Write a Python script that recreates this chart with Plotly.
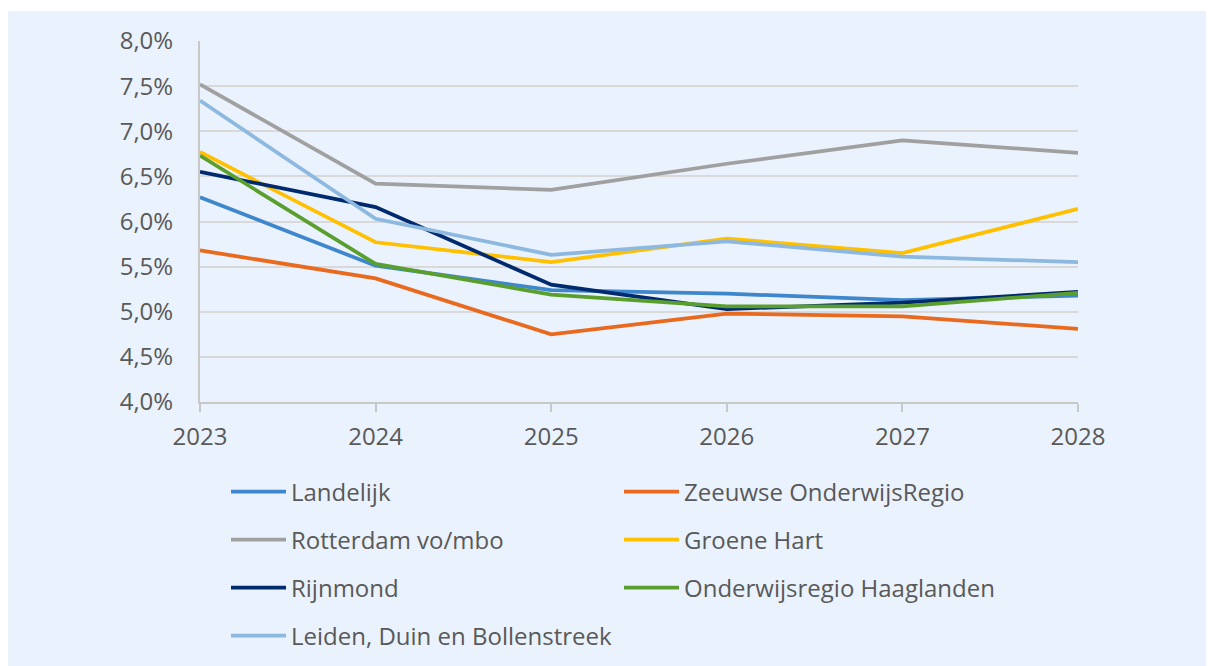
import plotly.graph_objects as go

# jaren en percentages
years = [2023, 2024, 2025, 2026, 2027, 2028]

landelijk = [6.27, 5.51, 5.24, 5.20, 5.13, 5.18]
zeeuwse = [5.68, 5.37, 4.75, 4.98, 4.95, 4.81]
rotterdam = [7.52, 6.42, 6.35, 6.64, 6.90, 6.76]
groene_hart = [6.77, 5.77, 5.55, 5.81, 5.65, 6.14]
rijnmond = [6.55, 6.16, 5.30, 5.03, 5.10, 5.22]
haaglanden = [6.73, 5.53, 5.19, 5.06, 5.06, 5.21]
leiden = [7.34, 6.03, 5.63, 5.78, 5.61, 5.55]

series_names = ['Landelijk', 'Zeeuwse OnderwijsRegio', 'Rotterdam vo/mbo', 'Groene Hart',
                'Rijnmond', 'Onderwijsregio Haaglanden', 'Leiden, Duin en Bollenstreek']
series_values = [landelijk, zeeuwse, rotterdam, groene_hart, rijnmond, haaglanden, leiden]
colors = ['#3F87CC', '#E96A1E', '#A0A0A0', '#FFC000', '#002A6E', '#5A9F2E', '#8DB9E0']

y_ticks = [4.0, 4.5, 5.0, 5.5, 6.0, 6.5, 7.0, 7.5, 8.0]
y_labels = [f"{v:.1f}%".replace('.', ',') for v in y_ticks]

# the page body adds an 8px margin, so the figure is 8px smaller than the window
W, H = 1206, 658
L, R, T, B = 192, 136, 33, 264
plot_w = W - L - R
plot_h = H - T - B

FONT = 'Open Sans'
TXT = '#595959'

fig = go.Figure()

# one legend per entry so the two-column layout can be placed by hand
col_x = [218, 611]
row_y = [484, 532, 580, 628]
layout_legends = {}

for i, (name, vals, col) in enumerate(zip(series_names, series_values, colors)):
    lid = 'legend' if i == 0 else f'legend{i + 1}'
    fig.add_trace(go.Scatter(
        x=years, y=vals, mode='lines', name=name,
        line=dict(color=col, width=3.75),
        legend=lid,
    ))
    layout_legends[lid] = dict(
        orientation='h', itemwidth=55,
        font=dict(family=FONT, size=24, color=TXT),
        bgcolor='rgba(0,0,0,0)', xanchor='left', yanchor='middle',
        x=(col_x[i % 2] - L) / plot_w, y=(H - B - row_y[i // 2]) / plot_h,
        itemclick=False, itemdoubleclick=False,
    )

fig.update_layout(
    width=W, height=H,
    margin=dict(l=L, r=R, t=T, b=B, autoexpand=False),
    paper_bgcolor='white',
    plot_bgcolor='rgba(0,0,0,0)',
    font=dict(family=FONT, size=24, color=TXT),
    showlegend=True,
    **layout_legends,
    shapes=[dict(type='rect', xref='paper', yref='paper', layer='below',
                 x0=-L / plot_w, x1=(W - L) / plot_w,
                 y0=-B / plot_h, y1=(H - B - 3) / plot_h,
                 fillcolor='#EAF2FD', line=dict(width=0))],
)

fig.update_xaxes(
    range=[2023, 2028], tickvals=years, ticktext=[str(y) for y in years],
    showgrid=False, showline=True, linecolor='#C8C8C8', linewidth=2,
    ticks='outside', ticklen=8, tickcolor='#C8C8C8', tickwidth=2,
    ticklabelstandoff=4, zeroline=False, fixedrange=True,
)
fig.update_yaxes(
    range=[4.0, 8.0], tickvals=y_ticks, ticktext=y_labels,
    showgrid=True, gridcolor='#D9D9D9', gridwidth=2,
    showline=True, linecolor='#C8C8C8', linewidth=2,
    ticks='', ticklabelstandoff=20, zeroline=False, fixedrange=True,
)

fig.write_html("out.html")
